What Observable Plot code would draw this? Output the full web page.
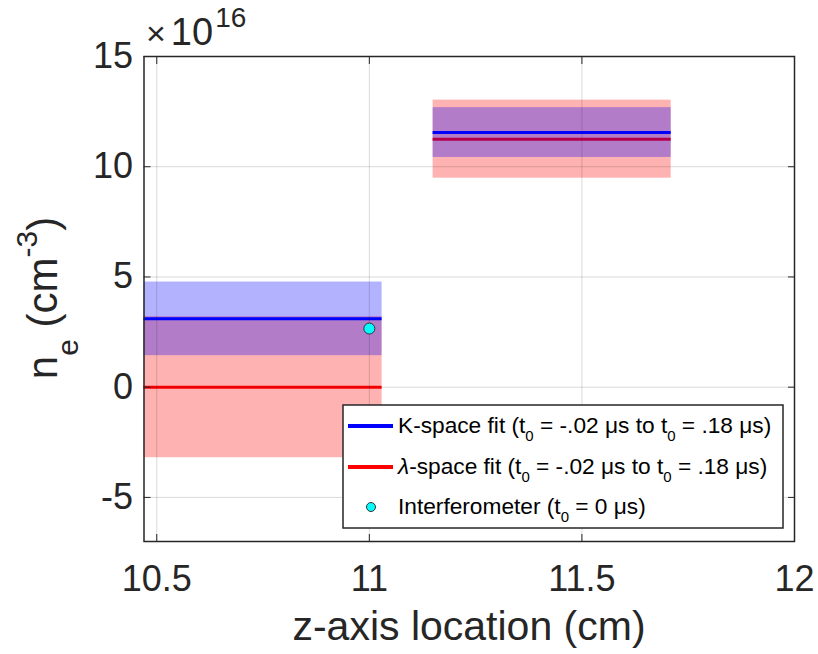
<!DOCTYPE html>
<html><head><meta charset="utf-8">
<script src="https://cdn.jsdelivr.net/npm/d3@7"></script>
<script src="https://cdn.jsdelivr.net/npm/@observablehq/plot@0.6"></script>
<style>body{margin:0;background:#fff} #chart{width:818px;height:654px;position:relative}</style>
</head><body><div id="chart"></div>
<script>
// values in units of 1e16 cm^-3
const segStart = [10.47, 11.15];
const segEnd = [11.03, 11.71];
const kFit = [3.1, 11.55];
const kErr = [1.67, 1.13];
const lambdaFit = [0.0, 11.25];
const lambdaErr = [3.2, 1.77];
const interfZ = [11.0];
const interfNe = [2.66];
const xTicks = [10.5, 11, 11.5, 12];
const yTicks = [-5, 0, 5, 10, 15];
const legendLabels = ["K-space fit", "-space fit", "Interferometer"];

const segs = segStart.map((s, i) => ({
  x1: s, x2: segEnd[i],
  k: kFit[i], kLo: kFit[i] - kErr[i], kHi: kFit[i] + kErr[i],
  l: lambdaFit[i], lLo: lambdaFit[i] - lambdaErr[i], lHi: lambdaFit[i] + lambdaErr[i]
}));
const interf = interfZ.map((z, i) => ({z, ne: interfNe[i]}));

const ink = "#262626";
const font = "Liberation Sans, Arial, Helvetica, sans-serif";

const plot = Plot.plot({
  width: 818, height: 654,
  marginLeft: 143.5, marginRight: 24, marginTop: 56, marginBottom: 113,
  style: {fontFamily: font, color: ink, background: "white"},
  x: {domain: [10.47, 12]},
  y: {domain: [-7, 15]},
  marks: [
    Plot.rect(segs, {x1: "x1", x2: "x2", y1: "lLo", y2: "lHi", fill: "red", fillOpacity: 0.3, inset: 0}),
    Plot.ruleY(segs, {y: "l", x1: "x1", x2: "x2", stroke: "red", strokeWidth: 3}),
    Plot.rect(segs, {x1: "x1", x2: "x2", y1: "kLo", y2: "kHi", fill: "blue", fillOpacity: 0.3, inset: 0}),
    Plot.ruleY(segs, {y: "k", x1: "x1", x2: "x2", stroke: "blue", strokeWidth: 3}),
    Plot.gridX(xTicks.slice(0, 3), {stroke: "#000", strokeOpacity: 0.15, strokeWidth: 1}),
    Plot.gridY(yTicks, {stroke: "#000", strokeOpacity: 0.15, strokeWidth: 1}),
    Plot.dot(interf, {x: "z", y: "ne", r: 5.5, fill: "#00ffff", stroke: "#333", strokeWidth: 1}),
    Plot.frame({stroke: ink, strokeWidth: 1.5}),
    Plot.axisX(xTicks, {anchor: "bottom", tickSize: 0, tickPadding: 24, fontSize: 36, label: null, tickFormat: d => String(d), fill: ink}),
    Plot.axisX(xTicks, {anchor: "bottom", tickSize: -7, tickFormat: () => "", label: null, stroke: ink}),
    Plot.axisX(xTicks, {anchor: "top", tickSize: -7, tickFormat: () => "", label: null, stroke: ink}),
    Plot.axisY(yTicks, {anchor: "left", tickSize: 0, tickPadding: 11, fontSize: 36, label: null, tickFormat: d => String(d), fill: ink}),
    Plot.axisY(yTicks, {anchor: "left", tickSize: -7, tickFormat: () => "", label: null, stroke: ink}),
    Plot.axisY(yTicks, {anchor: "right", tickSize: -7, tickFormat: () => "", label: null, stroke: ink})
  ]
});
document.getElementById("chart").appendChild(plot);

const svg = d3.select(plot);
// x label
svg.append("text").attr("x", 469).attr("y", 640).attr("text-anchor", "middle")
  .attr("font-family", font).attr("font-size", 41).attr("fill", ink).text("z-axis location (cm)");
// y label
const yl = svg.append("text").attr("transform", "translate(57,298) rotate(-90)").attr("text-anchor", "middle")
  .attr("font-family", font).attr("font-size", 42).attr("fill", ink);
yl.append("tspan").text("n");
yl.append("tspan").attr("font-size", 30).attr("dy", 21).text("e");
yl.append("tspan").attr("dy", -21).text(" (cm");
yl.append("tspan").attr("font-size", 30).attr("dy", -20).text("-3");
yl.append("tspan").attr("dy", 20).text(")");
// exponent
const ex = svg.append("text").attr("x", 146).attr("y", 45).attr("text-anchor", "start")
  .attr("font-family", font).attr("fill", ink);
ex.append("tspan").attr("font-size", 34).text("\u00d7");
ex.append("tspan").attr("font-size", 38).attr("dx", 5).text("10");
ex.append("tspan").attr("font-size", 28).attr("dx", 2).attr("dy", -18).text("16");

// legend
const lg = svg.append("g").attr("font-family", font).attr("font-size", 22.7).attr("fill", "#000")
  .attr("text-anchor", "start");
lg.append("rect").attr("x", 343).attr("y", 405).attr("width", 440).attr("height", 123)
  .attr("fill", "white").attr("stroke", ink).attr("stroke-width", 1.5);
const rows = [
  {y: 433, color: "blue", type: "line", pre: legendLabels[0], italic: false},
  {y: 474, color: "red", type: "line", pre: legendLabels[1], italic: true},
  {y: 514, color: "#00ffff", type: "dot", pre: legendLabels[2], italic: false}
];
rows.forEach(r => {
  if (r.type === "line") {
    lg.append("line").attr("x1", 348).attr("x2", 393).attr("y1", r.y - 7).attr("y2", r.y - 7)
      .attr("stroke", r.color).attr("stroke-width", 4);
  } else {
    lg.append("circle").attr("cx", 371).attr("cy", r.y - 7).attr("r", 4.5)
      .attr("fill", r.color).attr("stroke", "#333").attr("stroke-width", 1);
  }
  const t = lg.append("text").attr("x", 398).attr("y", r.y).attr("text-anchor", "start");
  if (r.italic) t.append("tspan").attr("font-style", "italic").text("\u03bb");
  t.append("tspan").text(r.pre + " (t");
  if (r.type === "line") {
    t.append("tspan").attr("font-size", 15).attr("dy", 8).text("0");
    t.append("tspan").attr("dy", -8).text(" = -.02 \u03bcs to t");
    t.append("tspan").attr("font-size", 15).attr("dy", 8).text("0");
    t.append("tspan").attr("dy", -8).text(" = .18 \u03bcs)");
  } else {
    t.append("tspan").attr("font-size", 15).attr("dy", 8).text("0");
    t.append("tspan").attr("dy", -8).text(" = 0 \u03bcs)");
  }
});
</script></body></html>
